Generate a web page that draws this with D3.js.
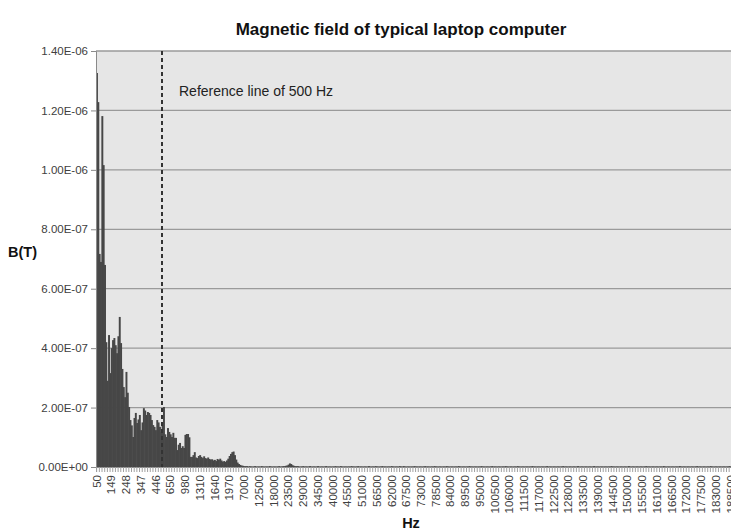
<!DOCTYPE html>
<html>
<head>
<meta charset="utf-8">
<script src="https://cdn.jsdelivr.net/npm/d3@7"></script>
<style>
  body { margin: 0; background: #fff; }
  svg { display: block; font-family: "Liberation Sans", Arial, sans-serif; }
</style>
</head>
<body>
<div id="wrapper"></div>
<script>
// frequency grid: [start, end, step] in Hz
const freqSegments = [[50, 500, 9], [530, 2000, 30], [2500, 199500, 500]]

// labelled categories on the x axis
const tickLabels = [50, 149, 248, 347, 446, 650, 980, 1310, 1640, 1970,
    7000, 12500, 18000, 23500, 29000, 34500, 40000, 45500, 51000, 56500,
    62000, 67500, 73000, 78500, 84000, 89500, 95000, 100500, 106000, 111500,
    117000, 122500, 128000, 133500, 139000, 144500, 150000, 155500, 161000,
    166500, 172000, 177500, 183000, 188500]

const yTicks = [0, 2e-7, 4e-7, 6e-7, 8e-7, 1e-6, 1.2e-6, 1.4e-6]

// field strength, in nT (1e-9 T), one value per frequency
const fieldNT = [
    1326, 1228, 717, 690, 1181, 1016, 680, 420, 290, 444,
    316, 400, 427, 434, 410, 383, 440, 505, 417, 330,
    269, 235, 320, 250, 202, 158, 140, 101, 165, 182,
    148, 160, 175, 124, 150, 198, 190, 175, 185, 182,
    175, 158, 141, 135, 124, 158, 150, 135, 118, 150,
    202,
    110, 101, 131, 118, 110, 101, 115, 98, 98, 57,
    75, 81, 64, 70, 64, 108, 111, 111, 100, 34,
    34, 40, 50, 32, 30, 37, 40, 34, 30, 36,
    30, 28, 32, 27, 25, 26, 22, 24, 20, 27,
    24, 28, 22, 18, 20, 17, 22, 28, 37, 44,
    50, 52, 40, 25, 15, 10, 7, 5, 4, 3,
    3, 3, 2, 3, 2, 2, 2, 3, 2, 2, 2, 2, 3, 2, 2, 2, 2, 2, 3, 2,
    2, 2, 2, 2, 2, 3, 2, 2, 3, 3, 4, 5,
    8, 12, 10, 6, 4, 3,
    3, 3, 2, 2, 2, 3, 2, 2, 2, 2, 3, 2, 2, 2, 2, 2, 3, 2, 2, 2,
    2, 2, 3, 2, 2, 2, 2, 2, 2, 3, 2, 2, 2, 3, 2, 2, 2, 2, 2, 2,
    2, 3, 2, 2, 2, 2, 3, 2, 2, 2, 2, 2, 2, 2, 3, 2, 2, 2, 2, 3,
    2, 2, 2, 2, 3, 2, 2, 2, 2, 2, 2, 3, 2, 2, 2, 2, 2, 3, 2, 2,
    3, 2, 2, 2, 2, 2, 2, 2, 3, 2, 2, 2, 2, 2, 2, 2, 3, 2, 2, 2,
    2, 2, 2, 3, 2, 2, 2, 2, 2, 2, 2, 2, 3, 2, 2, 2, 2, 2, 2, 2,
    2, 3, 2, 2, 2, 2, 2, 2, 2, 3, 2, 2, 2, 2, 2, 2, 2, 2, 3, 2,
    2, 2, 2, 2, 2, 2, 3, 2, 2, 2, 2, 2, 2, 2, 2, 2, 3, 2, 2, 2,
    2, 2, 2, 2, 2, 3, 2, 2, 2, 2, 2, 2, 2, 2, 2, 2, 3, 2, 2, 2,
    2, 2, 2, 2, 2, 2, 2, 3, 2, 2, 2, 2, 2, 2, 2, 2, 2, 2, 2, 3,
    2, 2, 2, 2, 2, 2, 2, 2, 2, 2, 3, 2, 2, 2, 2, 2, 2, 2, 2, 2,
    2, 2, 3, 2, 2, 2, 2, 2, 2, 2, 2, 2, 2, 2, 2, 3, 2, 2, 2, 2,
    2, 2, 2, 2, 2, 2, 2, 2, 3, 2, 2, 2, 2, 2, 2, 2, 2, 2, 2, 2,
    2, 3, 2, 2, 2, 2, 2, 2, 2, 2, 2, 2, 2, 2, 3, 2, 2, 2, 2, 2,
    2, 2, 2, 2, 2, 2, 3, 2, 2, 2, 2, 2, 2, 2, 2, 2, 2, 2, 2, 3,
    2, 2, 2, 2, 2, 2, 2, 2, 2, 3, 2, 2, 2, 2, 2, 2, 2, 2, 2, 2,
    2, 2, 2, 3, 2, 2, 2, 2, 2, 2, 2, 2, 2, 2, 2, 2, 2, 3, 2, 2,
    2, 2, 2, 2, 3, 2, 2
]

const refFreq = 500
const refText = "Reference line of 500 Hz"

const frequencies = freqSegments.flatMap(([a, b, s]) => d3.range(a, b + 1, s))
const dataset = frequencies.map((f, i) => ({ freq: f, value: fieldNT[i] * 1e-9 }))

const xAccessor = d => d.freq
const yAccessor = d => d.value

let dimensions = {
    width: 731,
    height: 532,
    margin: { top: 51, left: 96 },
    bandWidth: 1.34,
    boundedHeight: 416,
}
dimensions.boundedWidth = frequencies.length * dimensions.bandWidth

const wrapper = d3.select("#wrapper")
    .append("svg")
    .attr("width", dimensions.width)
    .attr("height", dimensions.height)

const bounds = wrapper.append("g")
    .attr("transform", `translate(${dimensions.margin.left},${dimensions.margin.top})`)

const xScaler = d3.scaleBand()
    .domain(frequencies)
    .range([0, dimensions.boundedWidth])
    .padding(0)

const yScaler = d3.scaleLinear()
    .domain([0, 1.4e-6])
    .range([dimensions.boundedHeight, 0])

// plot background
bounds.append("rect")
    .attr("width", dimensions.boundedWidth)
    .attr("height", dimensions.boundedHeight)
    .attr("fill", "#e6e6e6")

// gridlines
bounds.append("g")
    .selectAll("line")
    .data(yTicks.filter(d => d > 0))
    .join("line")
    .attr("x1", 0)
    .attr("x2", dimensions.boundedWidth)
    .attr("y1", d => yScaler(d))
    .attr("y2", d => yScaler(d))
    .attr("stroke", "#9a9a9a")
    .attr("stroke-width", 1.3)

// bars (slightly overlapped so the thin bars read as one filled shape)
bounds.append("g")
    .selectAll("rect")
    .data(dataset)
    .join("rect")
    .attr("x", d => xScaler(xAccessor(d)))
    .attr("width", xScaler.bandwidth() + 0.6)
    .attr("y", d => yScaler(yAccessor(d)))
    .attr("height", d => dimensions.boundedHeight - yScaler(yAccessor(d)))
    .attr("fill", "#474747")

const sci = v => {
    const [m, e] = v.toExponential(2).split("e")
    const n = Math.abs(+e)
    return `${m}E${+e < 0 ? "-" : "+"}${n < 10 ? "0" + n : n}`
}

// y axis
const yAxis = bounds.append("g")
    .call(d3.axisLeft(yScaler).tickValues(yTicks).tickSize(5).tickPadding(3).tickFormat(sci))
yAxis.select(".domain").attr("stroke", "#8a8a8a")
yAxis.selectAll(".tick line").attr("stroke", "#8a8a8a")
yAxis.selectAll("text")
    .attr("fill", "#404040")
    .attr("font-size", "11.5px")
    .attr("font-family", "Liberation Sans, Arial, sans-serif")

// x axis tick marks (every second category)
const xMarks = bounds.append("g")
    .attr("transform", `translate(0,${dimensions.boundedHeight})`)
    .call(d3.axisBottom(xScaler)
        .tickValues(frequencies.filter((d, i) => i % 2 === 0))
        .tickSize(5)
        .tickFormat(""))
xMarks.select(".domain").attr("stroke", "#8a8a8a")
xMarks.selectAll(".tick line").attr("stroke", "#a0a0a0")

// x axis labels
const xLabels = bounds.append("g")
    .attr("transform", `translate(0,${dimensions.boundedHeight})`)
    .call(d3.axisBottom(xScaler).tickValues(tickLabels).tickSize(0))
xLabels.select(".domain").remove()
xLabels.selectAll("text")
    .attr("fill", "#404040")
    .attr("font-size", "11.5px")
    .attr("font-family", "Liberation Sans, Arial, sans-serif")
    .attr("text-anchor", "end")
    .attr("dy", "0.35em")
    .attr("transform", "translate(0,8) rotate(-90)")
    .attr("y", 0)
    .attr("x", 0)

// reference line at 500 Hz
const refX = xScaler(refFreq) - 1
bounds.append("line")
    .attr("x1", refX)
    .attr("x2", refX)
    .attr("y1", 0)
    .attr("y2", dimensions.boundedHeight)
    .attr("stroke", "#333")
    .attr("stroke-width", 2)
    .attr("stroke-dasharray", "4,3")

bounds.append("text")
    .attr("x", refX + 17)
    .attr("y", 45)
    .text(refText)
    .attr("fill", "#222")
    .attr("font-size", "14px")

// titles
wrapper.append("text")
    .attr("x", 401)
    .attr("y", 35)
    .text("Magnetic field of typical laptop computer")
    .attr("fill", "#111")
    .attr("font-size", "17px")
    .attr("font-weight", "bold")
    .attr("text-anchor", "middle")

wrapper.append("text")
    .attr("x", 8)
    .attr("y", 257)
    .text("B(T)")
    .attr("fill", "#111")
    .attr("font-size", "14.5px")
    .attr("font-weight", "bold")

wrapper.append("text")
    .attr("x", 411)
    .attr("y", 528)
    .text("Hz")
    .attr("fill", "#111")
    .attr("font-size", "14.5px")
    .attr("font-weight", "bold")
    .attr("text-anchor", "middle")
</script>
</body>
</html>
